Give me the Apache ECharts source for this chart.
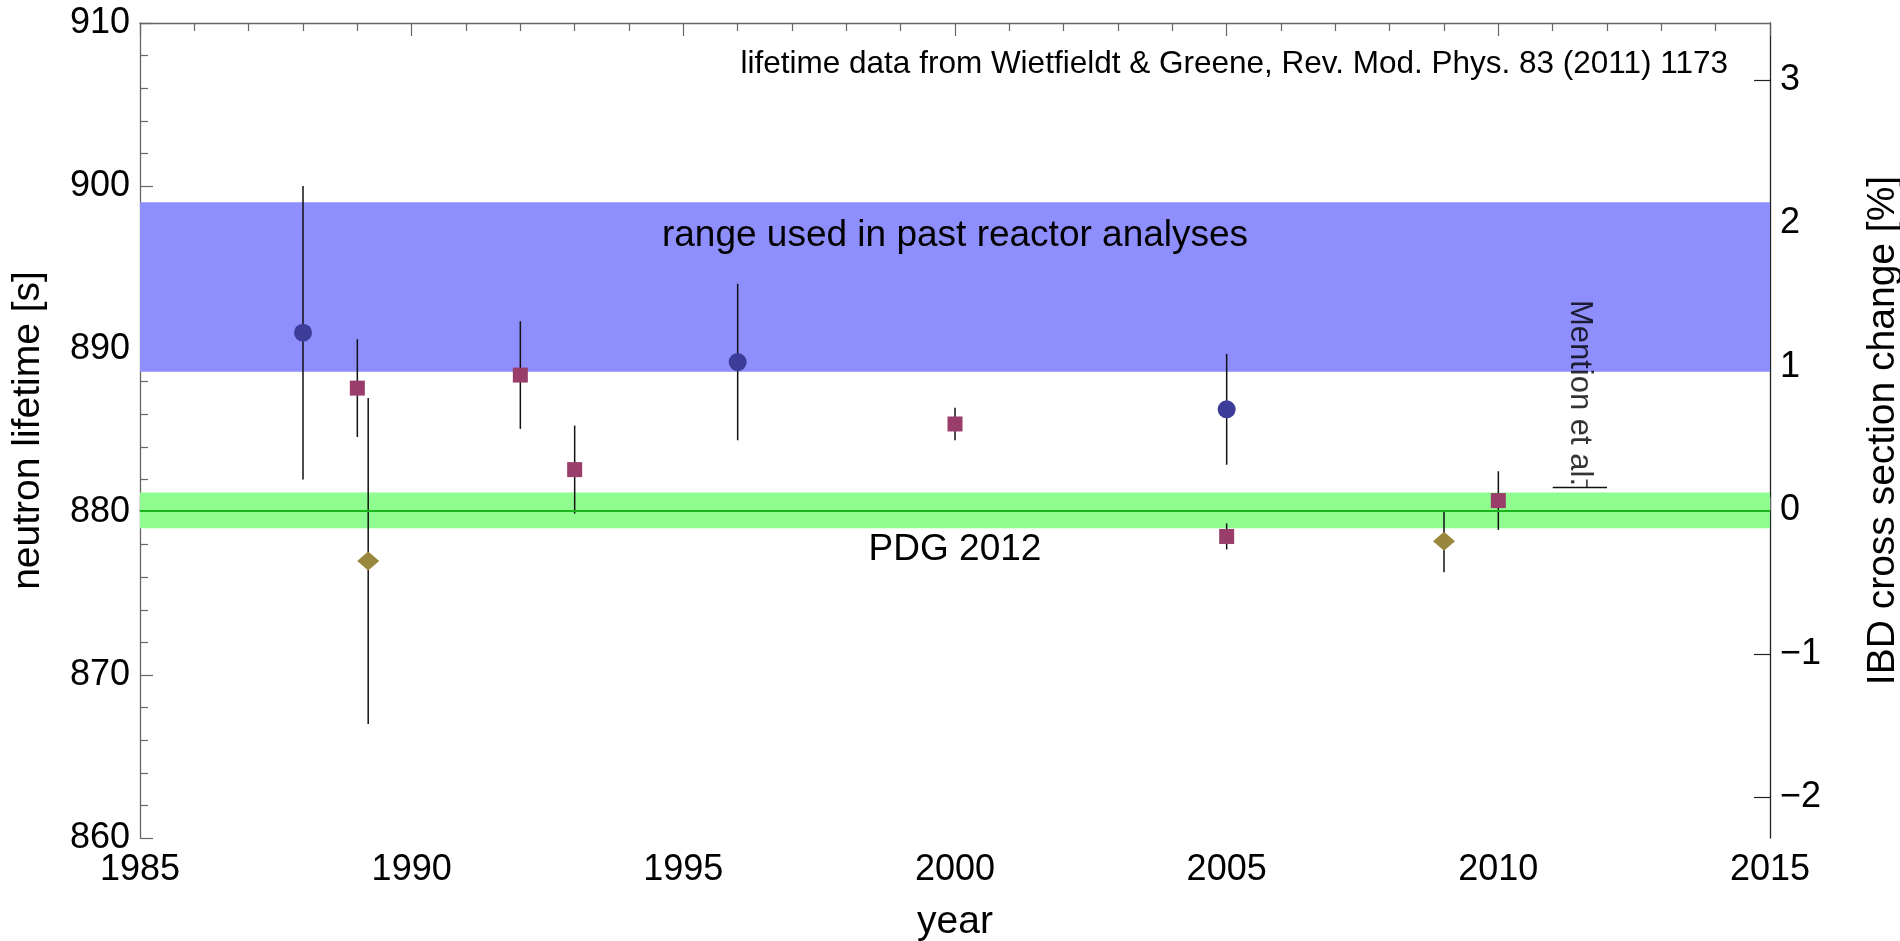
<!DOCTYPE html>
<html><head><meta charset="utf-8">
<script src="https://cdn.jsdelivr.net/npm/echarts@6/dist/echarts.min.js"></script>
<style>html,body{margin:0;padding:0;background:#fff}#c{width:1900px;height:941px}</style>
</head><body><div id="c"></div>
<script>
// ---- data (neutron lifetime measurements) ----
const beamYears = [1988, 1996, 2005];
const beamLifetime = [891.0, 889.2, 886.3];
const beamError = [9.0, 4.8, 3.4];

const bottleYears = [1989, 1992, 1993, 2000, 2005, 2010];
const bottleLifetime = [887.6, 888.4, 882.6, 885.4, 878.5, 880.7];
const bottleError = [3.0, 3.3, 2.7, 1.0, 0.8, 1.8];

const magYears = [1989.2, 2009];
const magLifetime = [877.0, 878.2];
const magError = [10.0, 1.9];

const pastRange = [888.6, 899.0];       // range used in past reactor analyses
const pdgValue = 880.1;                 // PDG 2012
const pdgError = 1.1;
const mentionYears = [2011, 2012];
const mentionValue = 881.5;             // Mention et al.
const mentionTickYear = 2011.63;
const mentionTickTop = 882.0;

const xRange = [1985, 2015];
const yRange = [860, 910];
const rightTickPercents = [-2, -1, 0, 1, 2, 3];

// ---- helpers ----
const FONT = '"Liberation Sans", Arial, Helvetica, sans-serif';
const pct = t => (t / pdgValue - 1) * 100;
const zip = (a, b, c) => a.map((v, i) => c ? [v, b[i], c[i]] : [v, b[i]]);

function errRender(params, api) {
  const x = api.value(0), v = api.value(1), e = api.value(2);
  const p1 = api.coord([x, v + e]);
  const p2 = api.coord([x, v - e]);
  return {
    type: 'line',
    shape: { x1: p1[0], y1: p1[1], x2: p2[0], y2: p2[1] },
    style: { stroke: '#111', lineWidth: 1.5 }
  };
}

const axisGray = '#666';
const tickStyle = { color: axisGray, width: 1.2 };

const chart = echarts.init(document.getElementById('c'), null, { renderer: 'canvas' });
chart.setOption({
  animation: false,
  backgroundColor: '#fff',
  grid: { left: 140, right: 130, top: 23, bottom: 103, outerBoundsMode: 'none', containLabel: false },
  xAxis: [{
    type: 'value', position: 'bottom', min: xRange[0], max: xRange[1], interval: 5,
    axisLine: { lineStyle: { color: axisGray, width: 1.3 } },
    axisTick: { inside: true, length: 13, lineStyle: tickStyle },
    minorTick: { show: true, splitNumber: 5, length: 8, lineStyle: tickStyle },
    splitLine: { show: false }, minorSplitLine: { show: false },
    axisLabel: { fontSize: 36, color: '#000', fontFamily: FONT, margin: 14, formatter: v => String(v) },
    name: 'year', nameLocation: 'middle', nameGap: 65,
    nameTextStyle: { fontSize: 39, color: '#000', fontFamily: FONT }
  }, {
    type: 'value', position: 'top', min: xRange[0], max: xRange[1], interval: 5,
    axisLine: { lineStyle: { color: axisGray, width: 1.3 } },
    axisTick: { inside: true, length: 13, lineStyle: tickStyle },
    minorTick: { show: true, splitNumber: 5, length: 8, lineStyle: tickStyle },
    splitLine: { show: false }, minorSplitLine: { show: false },
    axisLabel: { show: false }
  }],
  yAxis: [{
    type: 'value', position: 'left', min: yRange[0], max: yRange[1], interval: 10,
    axisLine: { show: true, lineStyle: { color: axisGray, width: 1.3 } },
    axisTick: { show: true, inside: true, length: 13, lineStyle: tickStyle },
    minorTick: { show: true, splitNumber: 5, length: 8, lineStyle: tickStyle },
    splitLine: { show: false }, minorSplitLine: { show: false },
    axisLabel: { fontSize: 36, color: '#000', fontFamily: FONT, margin: 10, formatter: v => String(v) },
    name: 'neutron lifetime [s]', nameLocation: 'middle', nameGap: 92, nameRotate: 90,
    nameTextStyle: { fontSize: 39, color: '#000', fontFamily: FONT }
  }, {
    type: 'value', position: 'right', min: pct(yRange[0]), max: pct(yRange[1]),
    axisLine: { show: true, lineStyle: { color: '#222', width: 1.3 } },
    axisTick: { show: true, inside: true, length: 16, customValues: rightTickPercents,
      lineStyle: { color: '#222', width: 1.2 } },
    minorTick: { show: false },
    splitLine: { show: false },
    axisLabel: { fontSize: 36, color: '#000', fontFamily: FONT, margin: 10,
      customValues: rightTickPercents,
      formatter: v => (v < 0 ? '\u2212' + Math.abs(v) : String(v)) },
    name: 'IBD cross section change [%]', nameLocation: 'middle', nameGap: 94, nameRotate: 90,
    nameTextStyle: { fontSize: 39, color: '#000', fontFamily: FONT }
  }],
  graphic: [{
    type: 'text', x: 1728, y: 64, z: 100,
    style: { text: 'lifetime data from Wietfieldt & Greene, Rev. Mod. Phys. 83 (2011) 1173',
      font: '31.5px ' + FONT, fill: '#000', textAlign: 'right', textVerticalAlign: 'middle' }
  }],
  series: [{
    name: 'bands', type: 'line', data: [], z: 1, silent: true,
    markArea: {
      silent: true,
      data: [
        [{ yAxis: pastRange[1], name: 'range used in past reactor analyses',
           itemStyle: { color: '#8E8EFD' },
           label: { show: true, position: 'insideTop', distance: 15, fontSize: 37, color: '#000', fontFamily: FONT } },
         { yAxis: pastRange[0] }],
        [{ yAxis: pdgValue + pdgError, name: 'PDG 2012',
           itemStyle: { color: '#8FFD8F' },
           label: { show: true, position: 'bottom', distance: 3, fontSize: 37, color: '#000', fontFamily: FONT } },
         { yAxis: pdgValue - pdgError }]
      ]
    },
    markLine: {
      silent: true, symbol: 'none', label: { show: false },
      lineStyle: { color: '#1DB51D', width: 2, type: 'solid' },
      data: [{ yAxis: pdgValue }]
    }
  }, {
    name: 'Mention line', type: 'line', z: 3, symbol: 'none', silent: true,
    lineStyle: { color: '#111', width: 1.4 },
    data: mentionYears.map(y => [y, mentionValue])
  }, {
    name: 'Mention tick', type: 'line', z: 3, symbol: 'none', silent: true,
    lineStyle: { color: '#111', width: 1.4 },
    data: [[mentionTickYear, mentionValue], [mentionTickYear, mentionTickTop]]
  }, {
    name: 'Mention label', type: 'scatter', z: 5, symbolSize: 0, silent: true,
    data: [[(mentionYears[0] + mentionYears[1]) / 2, 887.3]],
    label: { show: true, position: 'inside', rotate: -90, formatter: 'Mention et al.',
      fontSize: 31, color: '#000', textBorderWidth: 0, fontFamily: FONT }
  }, {
    name: 'beam err', type: 'custom', z: 3, renderItem: errRender, encode: { x: 0, y: 1 },
    data: zip(beamYears, beamLifetime, beamError)
  }, {
    name: 'bottle err', type: 'custom', z: 3, renderItem: errRender, encode: { x: 0, y: 1 },
    data: zip(bottleYears, bottleLifetime, bottleError)
  }, {
    name: 'magnetic err', type: 'custom', z: 3, renderItem: errRender, encode: { x: 0, y: 1 },
    data: zip(magYears, magLifetime, magError)
  }, {
    name: 'beam', type: 'scatter', z: 4, symbol: 'circle', symbolSize: 18,
    itemStyle: { color: '#3D3D99', opacity: 1 },
    data: zip(beamYears, beamLifetime)
  }, {
    name: 'bottle', type: 'scatter', z: 4, symbol: 'rect', symbolSize: 15,
    itemStyle: { color: '#993D6B', opacity: 1 },
    data: zip(bottleYears, bottleLifetime)
  }, {
    name: 'magnetic', type: 'scatter', z: 4, symbol: 'diamond', symbolSize: [22, 19],
    itemStyle: { color: '#99873D', opacity: 1 },
    data: zip(magYears, magLifetime)
  }]
});
</script>
</body></html>
